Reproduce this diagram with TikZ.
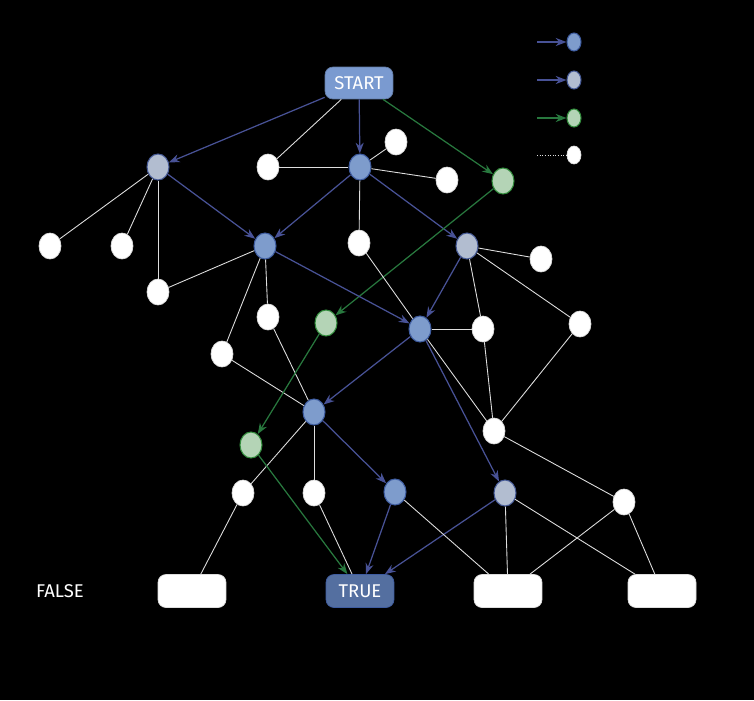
\documentclass[tikz,border=0pt]{standalone}
\usepackage{fontspec}
\setmainfont{Fira Sans}
\usepackage{tikz}
\usetikzlibrary{arrows.meta,shapes}
\definecolor{nodeblue}{RGB}{126,156,204}
\definecolor{bluerim}{RGB}{62,92,160}
\definecolor{nodegray}{RGB}{178,189,208}
\definecolor{grayrim}{RGB}{70,90,150}
\definecolor{nodegreen}{RGB}{180,212,182}
\definecolor{greenrim}{RGB}{50,140,60}
\definecolor{startblue}{RGB}{122,154,208}
\definecolor{trueblue}{RGB}{84,111,160}
\definecolor{arrowblue}{RGB}{72,82,150}
\definecolor{arrowgreen}{RGB}{40,120,62}
\definecolor{linkgray}{RGB}{222,222,222}
\tikzstyle{bluestate}=[ellipse, draw=bluerim, line width=0.6pt, fill=nodeblue, minimum width=0.44cm, minimum height=0.52cm, inner sep=0pt]
\tikzstyle{graystate}=[ellipse, draw=grayrim, line width=0.6pt, fill=nodegray, minimum width=0.44cm, minimum height=0.52cm, inner sep=0pt]
\tikzstyle{greenstate}=[ellipse, draw=greenrim, line width=0.6pt, fill=nodegreen, minimum width=0.44cm, minimum height=0.52cm, inner sep=0pt]
\tikzstyle{plainstate}=[ellipse, draw=linkgray, line width=0.4pt, fill=white, minimum width=0.44cm, minimum height=0.52cm, inner sep=0pt]
\tikzstyle{terminal}=[rectangle, rounded corners=0.16cm, minimum width=1.36cm, minimum height=0.66cm, inner sep=0pt, text=white, font=\fontsize{10.5}{12}\selectfont]
\tikzstyle{link}=[draw, line width=0.5pt, linkgray]
\tikzstyle{bluearrow}=[draw, line width=0.7pt, arrowblue, >=Stealth, -{>[scale=1.0]}]
\tikzstyle{greenarrow}=[draw, line width=0.7pt, arrowgreen, >=Stealth, -{>[scale=1.0]}]

\begin{document}
\begin{tikzpicture}[x=0.02cm, y=-0.02cm]
      %
      \fill[black] (0,0) rectangle (754,700);
      %
      % Legend
      %
      \node[bluestate, minimum width=0.28cm, minimum height=0.36cm] (lgblue) at (574,42) {};
      \node[graystate, minimum width=0.28cm, minimum height=0.36cm] (lggray) at (574,80) {};
      \node[greenstate, minimum width=0.28cm, minimum height=0.36cm] (lggreen) at (574,118) {};
      \node[plainstate, minimum width=0.28cm, minimum height=0.36cm] (lgplain) at (574,155) {};
      \coordinate (lgblue0) at (537,42);
      \coordinate (lggray0) at (537,80);
      \coordinate (lggreen0) at (537,118);
      \coordinate (lgplain0) at (537,155);
      \path[bluearrow] (lgblue0) -- (lgblue);
      \path[bluearrow] (lggray0) -- (lggray);
      \path[greenarrow] (lggreen0) -- (lggreen);
      \path[link, densely dotted] (lgplain0) -- (lgplain);
      %
      % Start and first level
      %
      \node[terminal, fill=startblue, draw=startblue!80!black, minimum height=0.64cm] (start) at (359,83) {START};
      \node[graystate] (a) at (158,167) {};
      \node[plainstate] (b) at (268,167) {};
      \node[bluestate] (c) at (360,167) {};
      \node[plainstate] (d) at (396,142) {};
      \node[plainstate] (e) at (447,180) {};
      \node[greenstate] (f) at (503,181) {};
      %
      % Second level
      %
      \node[plainstate] (g) at (50,246) {};
      \node[plainstate] (h) at (122,246) {};
      \node[bluestate] (i) at (265,246) {};
      \node[plainstate] (j) at (359,243) {};
      \node[graystate] (k) at (467,246) {};
      \node[plainstate] (l) at (541,259) {};
      \node[plainstate] (m) at (158,292) {};
      %
      % Third level
      %
      \node[plainstate] (n) at (268,317) {};
      \node[greenstate] (o) at (326,323) {};
      \node[bluestate] (p) at (420,329) {};
      \node[plainstate] (q) at (483,329) {};
      \node[plainstate] (r) at (580,324) {};
      \node[plainstate] (s) at (222,354) {};
      \node[bluestate] (t) at (314,412) {};
      \node[plainstate] (u) at (494,431) {};
      \node[greenstate] (v) at (251,445) {};
      %
      % Fourth level
      %
      \node[plainstate] (w) at (243,493) {};
      \node[plainstate] (x) at (314,493) {};
      \node[bluestate] (y) at (395,492) {};
      \node[graystate] (z) at (505,493) {};
      \node[plainstate] (aa) at (624,502) {};
      %
      % Outcomes
      %
      \node[text=white, font=\fontsize{10.5}{12}\selectfont] (falselabel) at (60,591) {FALSE};
      \node[terminal, fill=white, draw=linkgray] (out1) at (192,591) {};
      \node[terminal, fill=trueblue, draw=bluerim] (true) at (360,591) {TRUE};
      \node[terminal, fill=white, draw=linkgray] (out3) at (508,591) {};
      \node[terminal, fill=white, draw=linkgray] (out4) at (662,591) {};
      %
      % START --> first level
      %
      \path[bluearrow] (start) -- (a);
      \path[link] (start) -- (b);
      \path[bluearrow] (start) -- (c);
      \path[greenarrow] (start) -- (f);
      \path[link] (b) -- (c);
      \path[link] (c) -- (d);
      \path[link] (c) -- (e);
      %
      % first level --> second level
      %
      \path[link] (a) -- (g);
      \path[link] (a) -- (h);
      \path[link] (a) -- (m);
      \path[bluearrow] (a) -- (i);
      \path[bluearrow] (c) -- (i);
      \path[link] (c) -- (j);
      \path[bluearrow] (c) -- (k);
      \path[greenarrow] (f) -- (o);
      %
      % second level --> third level
      %
      \path[link] (i) -- (m);
      \path[link] (i) -- (n);
      \path[link] (i) -- (s);
      \path[bluearrow] (i) -- (p);
      \path[link] (j) -- (p);
      \path[bluearrow] (k) -- (p);
      \path[link] (k) -- (l);
      \path[link] (k) -- (q);
      \path[link] (k) -- (r);
      \path[link] (p) -- (q);
      \path[link] (p) -- (u);
      \path[link] (q) -- (u);
      \path[link] (r) -- (u);
      \path[bluearrow] (p) -- (t);
      \path[link] (n) -- (t);
      \path[link] (s) -- (t);
      \path[greenarrow] (o) -- (v);
      %
      % third level --> fourth level
      %
      \path[link] (t) -- (w);
      \path[link] (t) -- (x);
      \path[bluearrow] (t) -- (y);
      \path[bluearrow] (p) -- (z);
      \path[link] (u) -- (aa);
      %
      % fourth level --> outcomes
      %
      \path[link] (w) -- (out1);
      \path[link] (x) -- (true);
      \path[greenarrow] (v) -- (true);
      \path[bluearrow] (y) -- (true);
      \path[bluearrow] (z) -- (true);
      \path[link] (y) -- (out3);
      \path[link] (z) -- (out3);
      \path[link] (z) -- (out4);
      \path[link] (aa) -- (out3);
      \path[link] (aa) -- (out4);
      %
\end{tikzpicture}
\end{document}
